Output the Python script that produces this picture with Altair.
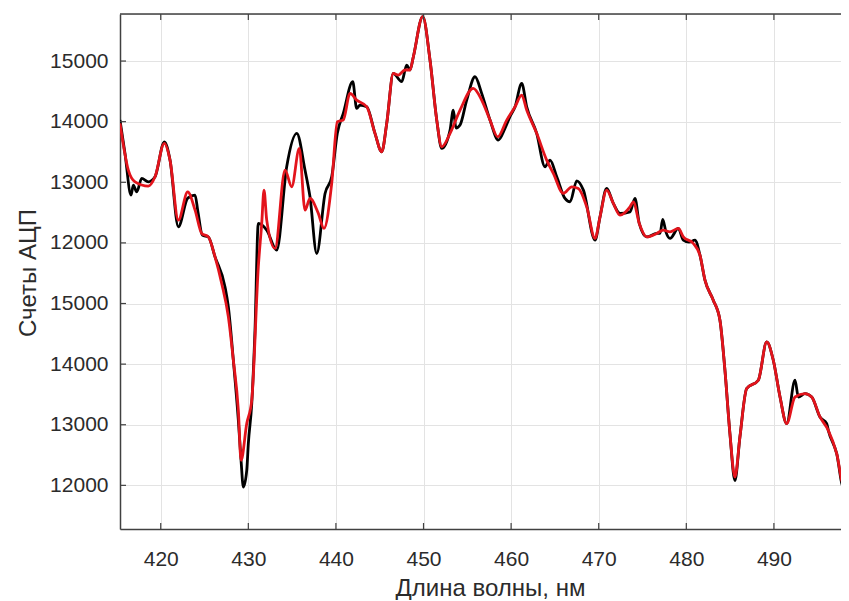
import altair as alt
import pandas as pd

# ---- data ----
black_nm = [415.35, 415.92, 416.61, 416.87, 417.26, 417.83, 418.58, 419.35, 420.41, 421.06,
            422.01, 423.08, 423.92, 424.22, 424.75, 425.43, 426.20, 427.34, 427.72, 428.29,
            428.86, 429.17, 429.43, 429.82, 430.00, 430.39, 430.76, 431.14, 432.10, 433.24,
            434.38, 435.53, 436.47, 437.04, 437.81, 438.76, 439.52, 440.16, 440.84, 441.92,
            442.37, 442.75, 443.52, 444.46, 445.23, 445.80, 446.55, 447.51, 448.08, 448.46,
            448.84, 449.91, 450.74, 451.51, 452.08, 453.03, 453.40, 453.71, 454.17, 454.93,
            455.88, 456.64, 457.59, 458.54, 459.30, 459.87, 460.45, 461.21, 461.78, 462.92,
            463.87, 464.44, 465.21, 466.15, 466.73, 467.49, 468.25, 469.58, 470.15, 470.91,
            471.67, 472.43, 473.57, 474.14, 474.63, 475.48, 476.62, 477.00, 477.31, 477.68,
            478.14, 479.09, 479.66, 480.31, 480.99, 481.56, 482.13, 483.08, 483.84, 484.41,
            484.98, 485.55, 486.12, 486.89, 488.22, 489.18, 489.93, 490.70, 491.46, 492.41,
            492.79, 493.55, 494.32, 495.26, 496.03, 496.21, 497.17, 497.92, 498.30, 498.57]
black_counts = [14026, 13476, 12788, 12953, 12842, 13064, 13007, 13090, 13668, 13366,
                12265, 12738, 12788, 12540, 12128, 12099, 11769, 11274, 10944, 10064,
                9073, 8413, 7972, 8248, 8688, 9349, 10559, 12321, 12210, 11880,
                13255, 13807, 13201, 12760, 11825, 12816, 13090, 13807, 14137, 14659,
                14219, 14274, 14246, 13807, 13503, 13972, 14797, 14659, 14934, 14852,
                15071, 15732, 15017, 14026, 13559, 13861, 14191, 13894, 13944, 14356,
                14741, 14467, 14026, 13696, 13889, 14081, 14246, 14632, 14246, 13807,
                13255, 13366, 13090, 12733, 12677, 13024, 12870, 12045, 12430, 12898,
                12651, 12486, 12512, 12733, 12321, 12099, 12156, 12156, 12387, 12177,
                12073, 12238, 12045, 12012, 12045, 11797, 11385, 11054, 10724, 9899,
                8854, 8080, 8797, 9597, 9734, 10366, 10064, 9458, 9019, 9734,
                9458, 9514, 9458, 9128, 9019, 8908, 8523, 7972, 8193, 8165]

red_nm = [415.35, 416.30, 417.07, 418.58, 419.35, 420.41, 421.06, 422.01, 423.08, 423.92,
          424.68, 425.43, 426.20, 426.96, 427.72, 428.29, 428.86, 429.17, 429.82, 430.39,
          431.14, 431.53, 431.79, 432.10, 433.05, 434.19, 434.95, 435.82, 436.47, 437.04,
          437.99, 438.64, 439.52, 440.16, 440.84, 441.61, 442.37, 443.52, 444.46, 445.23,
          445.80, 446.55, 447.12, 447.89, 448.46, 448.84, 449.91, 450.74, 451.51, 452.08,
          453.03, 454.17, 455.68, 456.64, 457.59, 458.47, 459.50, 460.45, 461.21, 461.78,
          462.92, 464.06, 464.82, 465.96, 466.92, 467.67, 468.63, 469.58, 470.15, 470.91,
          471.67, 472.43, 473.57, 473.95, 474.63, 475.48, 476.62, 477.37, 478.14, 479.09,
          479.66, 480.80, 481.56, 482.13, 483.08, 483.84, 484.41, 484.98, 485.55, 486.12,
          486.89, 488.22, 489.18, 489.93, 490.70, 491.46, 492.41, 493.55, 494.32, 495.26,
          496.21, 497.17, 497.92, 498.57]
red_counts = [13972, 13201, 13007, 12937, 13090, 13641, 13366, 12375, 12842, 12540,
              12156, 12099, 11769, 11330, 10779, 10064, 9238, 8413, 9019, 9403,
              11604, 12321, 12870, 12375, 11908, 13201, 12925, 13559, 12540, 12733,
              12486, 12238, 12981, 13998, 14026, 14467, 14356, 14246, 13807, 13503,
              13972, 14797, 14769, 14852, 14852, 15071, 15732, 15017, 14026, 13585,
              13807, 14191, 14550, 14356, 14026, 13750, 14026, 14246, 14439, 14191,
              13807, 13366, 13146, 12816, 12925, 12898, 12595, 12073, 12430, 12870,
              12651, 12458, 12595, 12677, 12321, 12099, 12156, 12210, 12182, 12238,
              12099, 11990, 11797, 11385, 11054, 10724, 9899, 8854, 8137, 8797,
              9597, 9734, 10366, 10064, 9458, 9019, 9458, 9514, 9458, 9128,
              8908, 8523, 8028, 8193]

x_tick_values = [420, 430, 440, 450, 460, 470, 480, 490]
y_tick_values = [8000, 9000, 10000, 11000, 12000, 13000, 14000, 15000]
y_tick_labels = ["12000", "13000", "14000", "15000", "12000", "13000", "14000", "15000"]

x_domain = [415.35, 497.66]
y_domain = [7280, 15776]

W, H = 721, 515
FONT = "Liberation Sans"
TXT = "#2b2b2b"
AXC = "#404040"

black_df = pd.DataFrame({"nm": black_nm, "counts": black_counts})
red_df = pd.DataFrame({"nm": red_nm, "counts": red_counts})
xt_df = pd.DataFrame({"nm": x_tick_values})
yt_df = pd.DataFrame({"counts": y_tick_values})

xs = alt.Scale(domain=x_domain, nice=False, zero=False)
ys = alt.Scale(domain=y_domain, nice=False, zero=False)

labels_js = "[" + ",".join("'%s'" % s for s in y_tick_labels) + "]"
y_label_expr = "%s[round((datum.value - %d) / 1000)]" % (labels_js, y_tick_values[0])

x_axis = alt.Axis(values=x_tick_values, grid=True, gridColor="#e3e3e3", gridWidth=1,
                  ticks=False, tickSize=0, domain=True, domainColor=AXC, domainWidth=1.5,
                  labelFont=FONT, labelFontSize=21, labelColor=TXT, labelPadding=36,
                  labelBaseline="alphabetic",
                  title="Длина волны, нм", titleFont=FONT, titleFontSize=24,
                  titleFontWeight="normal", titleColor=TXT, titleBaseline="alphabetic",
                  titleX=370, titleY=66, titleAlign="center")
y_axis = alt.Axis(values=y_tick_values, labelExpr=y_label_expr, grid=True,
                  gridColor="#e3e3e3", gridWidth=1, ticks=False, tickSize=0,
                  domain=True, domainColor=AXC, domainWidth=1.5,
                  labelFont=FONT, labelFontSize=21, labelColor=TXT, labelPadding=12,
                  title="Счеты АЦП", titleFont=FONT, titleFontSize=24,
                  titleFontWeight="normal", titleColor=TXT, titleBaseline="alphabetic",
                  titleAngle=270, titleX=-85, titleY=H / 2 + 1, titleAlign="center")

X = alt.X("nm:Q", scale=xs, axis=x_axis)
Y = alt.Y("counts:Q", scale=ys, axis=y_axis)

black = alt.Chart(black_df).mark_line(color="#000000", strokeWidth=2.8, clip=True,
                                      interpolate="monotone", strokeJoin="round").encode(x=X, y=Y)
red = alt.Chart(red_df).mark_line(color="#e3141c", strokeWidth=2.8, clip=True,
                                  interpolate="monotone", strokeJoin="round").encode(x=X, y=Y)

tick_bottom = alt.Chart(xt_df).mark_rule(color=AXC, strokeWidth=1.2).encode(
    x=X, y=alt.value(H), y2=alt.value(H - 6))
tick_top = alt.Chart(xt_df).mark_rule(color=AXC, strokeWidth=1.2).encode(
    x=X, y=alt.value(0), y2=alt.value(6))
tick_left = alt.Chart(yt_df).mark_rule(color=AXC, strokeWidth=1.2).encode(
    y=Y, x=alt.value(0), x2=alt.value(6))
top_border = alt.Chart(xt_df.head(1)).mark_rule(color=AXC, strokeWidth=1.5).encode(
    x=alt.value(0), x2=alt.value(W), y=alt.value(0))

chart = alt.layer(black, red, tick_bottom, tick_top, tick_left, top_border).properties(
    width=W, height=H,
    autosize=alt.AutoSizeParams(type="none"),
    padding={"left": 112, "top": 6, "right": 0, "bottom": 71},
).configure_view(stroke=None).configure(background="white")

chart.save("out.html", embed_options={"renderer": "svg", "actions": False})
